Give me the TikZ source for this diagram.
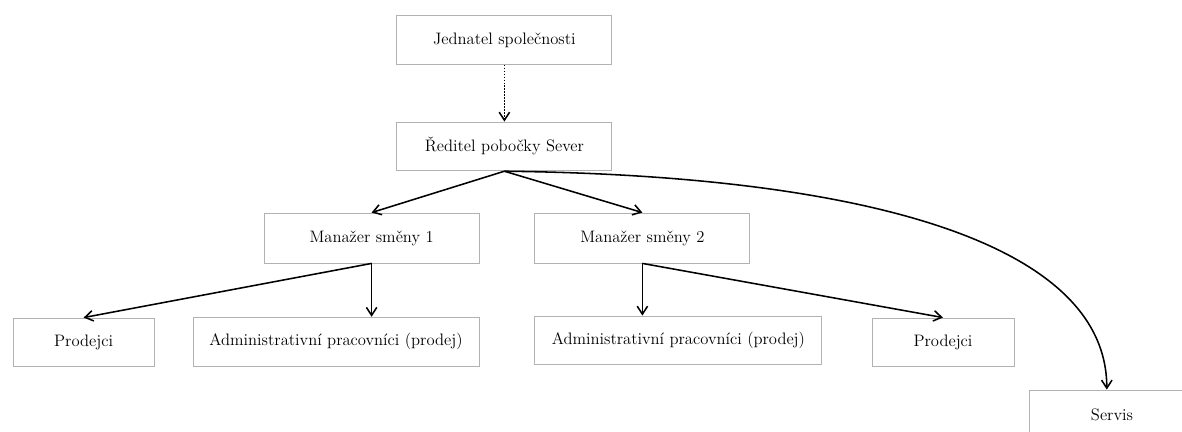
\documentclass[tikz,border=0pt]{standalone}
\usepackage{tikz}
\usetikzlibrary{arrows.meta}

\begin{document}
\begin{tikzpicture}[>={Straight Barb[length=2mm, width=2.6mm]}, every node/.style={font=\fontsize{11.8}{14}\selectfont, text=black},
	unitbox/.style={draw=black!30, line width=0.6pt, minimum height=1.22cm, inner sep=0pt},
	link/.style={->, line width=1.1pt}]
	\useasboundingbox (0,0) rectangle (29.55,-10.8);
	\node[unitbox, minimum width=5.375cm] (jed) at (12.61,-1.0) {Jednatel společnosti};
	\node[unitbox, minimum width=5.375cm] (red) at (12.61,-3.66) {Ředitel pobočky Sever};
	\node[unitbox, minimum width=5.375cm, minimum height=1.25cm] (man1) at (9.29,-5.95) {Manažer směny 1};
	\node[unitbox, minimum width=5.375cm, minimum height=1.25cm] (man2) at (16.06,-5.95) {Manažer směny 2};
	\node[unitbox, minimum width=3.525cm] (prodA) at (2.09,-8.56) {Prodejci};
	\node[unitbox, minimum width=7.15cm] (admA) at (8.4,-8.54) {Administrativní pracovníci (prodej)};
	\node[unitbox, minimum width=7.175cm] (admB) at (16.96,-8.51) {Administrativní pracovníci (prodej)};
	\node[unitbox, minimum width=3.55cm] (prodB) at (23.575,-8.56) {Prodejci};
	\node[unitbox, minimum width=4.15cm, minimum height=1.25cm] (servis) at (27.8,-10.375) {Servis};
	\draw[link, densely dotted] (jed) -- (red);
	\draw[link] (red.south) -- (man1.north);
	\draw[link] (red.south) -- (man2.north);
	\draw[link] (red.south) .. controls +(8.75,-0.1) and +(0,3.75) .. (servis.north -| 27.67,0);
	\draw[link] (man1.south) -- (prodA.north);
	\draw[link] (man1.south) -- (man1.south |- admA.north);
	\draw[link] (man2.south) -- (man2.south |- admB.north);
	\draw[link] (man2.south) -- (prodB.north);
\end{tikzpicture}
\end{document}
